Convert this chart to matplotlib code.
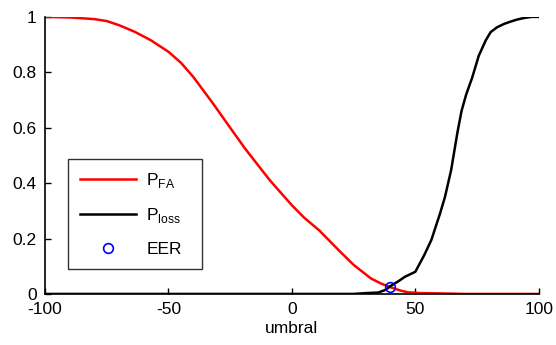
import matplotlib
matplotlib.use('Agg')
import matplotlib.pyplot as plt

plt.rcParams['font.family'] = ['Liberation Sans', 'DejaVu Sans']
plt.rcParams['mathtext.fontset'] = 'custom'
plt.rcParams['mathtext.rm'] = 'Liberation Sans'
plt.rcParams['axes.unicode_minus'] = False

# P_FA curve (red)
fa_x = [-100, -90, -80, -75, -70, -63.6, -57, -50, -45, -40, -32, -25, -19, -9, 0,
        5, 11, 19.5, 25, 32, 36, 40, 44, 47, 52, 60, 70, 100]
fa_y = [1.0, 0.998, 0.992, 0.985, 0.97, 0.946, 0.915, 0.874, 0.835, 0.784, 0.688,
        0.6, 0.525, 0.411, 0.32, 0.275, 0.23, 0.153, 0.105, 0.056, 0.038, 0.024,
        0.012, 0.006, 0.003, 0.002, 0.0, 0.0]

# P_loss curve (black)
loss_x = [-100, 25, 30, 35, 38, 40, 43, 45.8, 50, 53.6, 56.5, 60, 62, 64.5, 67,
          68.7, 70.6, 73, 75.7, 78.5, 80.5, 83, 86, 88.6, 91, 94, 97, 100]
loss_y = [0.0, 0.0, 0.003, 0.005, 0.015, 0.029, 0.045, 0.062, 0.08, 0.14, 0.195,
          0.29, 0.35, 0.447, 0.58, 0.66, 0.72, 0.78, 0.86, 0.915, 0.945, 0.962,
          0.975, 0.983, 0.99, 0.996, 1.0, 1.0]

eer_x = [39.7]
eer_y = [0.025]

fig = plt.figure(figsize=(5.56, 3.45), dpi=100)
ax = fig.add_axes([0.081, 0.148, 0.888, 0.803])

ax.plot(fa_x, fa_y, color='red', lw=1.8, label=r'P$_{\mathrm{FA}}$')
ax.plot(loss_x, loss_y, color='black', lw=1.8, label=r'P$_{\mathrm{loss}}$')
ax.plot(eer_x, eer_y, 'o', mfc='none', mec='blue', ms=7, mew=1.2, ls='none', label='EER')

ax.set_xlim(-100, 100)
ax.set_ylim(0, 1)
ax.set_xticks([-100, -50, 0, 50, 100])
ax.set_yticks([0, 0.2, 0.4, 0.6, 0.8, 1])
ax.set_yticklabels(['0', '0.2', '0.4', '0.6', '0.8', '1'])
ax.tick_params(direction='in', length=4, width=1, labelsize=12.5)
ax.tick_params(axis='x', pad=6)
ax.tick_params(axis='y', pad=6)
ax.spines['top'].set_visible(False)
ax.spines['right'].set_visible(False)
ax.spines['left'].set_linewidth(1.2)
ax.spines['bottom'].set_linewidth(1.2)
ax.set_xlabel('umbral', fontsize=12.5, labelpad=3)

leg = ax.legend(loc='lower left', bbox_to_anchor=(0.047, 0.09, 0.271, 0.39), mode='expand',
                fontsize=12.5, frameon=True, fancybox=False, edgecolor='black',
                handlelength=3.2, borderpad=0.7, labelspacing=0.95, handletextpad=0.6,
                borderaxespad=0)
leg.get_frame().set_linewidth(1.0)

fig.savefig('out.png', dpi=100)
